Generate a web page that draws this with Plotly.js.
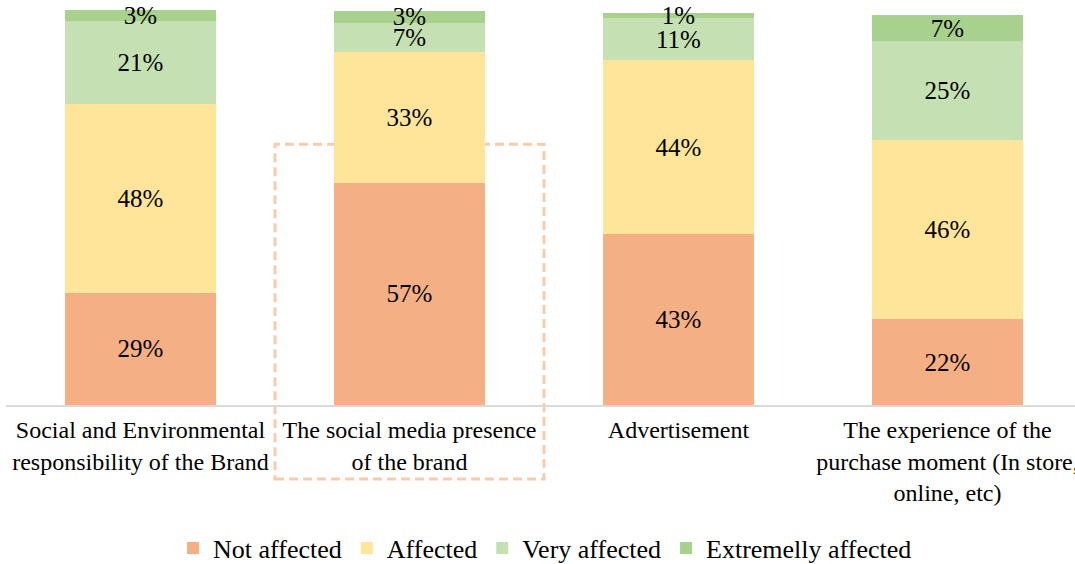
<!DOCTYPE html>
<html><head><meta charset="utf-8">
<script src="https://cdn.plot.ly/plotly-3.0.1.min.js"></script>
<style>html,body{margin:0;padding:0;background:#fff}#chart{width:1075px;height:564px}</style>
</head><body><div id="chart"></div><script>
// Categories (x-axis tick labels)
const categories = [
  "Social and Environmental<br>responsibility of the Brand",
  "The social media presence<br>of the brand",
  "Advertisement",
  "The experience of the<br>purchase moment (In store,<br>online, etc)"
];
// Series values (percent)
const notAffected        = [28.6, 56.6, 43.4, 21.8];
const affected           = [48.1, 33.3, 44.4, 45.6];
const veryAffected       = [21.1, 7.4, 10.6, 25.2];
const extremellyAffected = [2.6, 3.0, 1.4, 6.6];
const seriesNames  = ["Not affected", "Affected", "Very affected", "Extremelly affected"];
const seriesValues = [notAffected, affected, veryAffected, extremellyAffected];
const seriesColors = ["#F4B084", "#FFE599", "#C5E0B3", "#A9D18E"];

const FONT = "'Liberation Serif', 'Times New Roman', Times, serif";

const traces = seriesNames.map((name, i) => ({
  type: "bar",
  name: name,
  x: categories,
  y: seriesValues[i],
  width: 0.558,
  marker: {color: seriesColors[i], line: {width: 0}},
  texttemplate: "%{y:.0f}%",
  textposition: "inside",
  insidetextanchor: "middle",
  constraintext: "none",
  textangle: 0,
  cliponaxis: false,
  textfont: {family: FONT, size: 25, color: "#000000"},
  hoverinfo: "skip"
}));

const layout = {
  width: 1075, height: 564,
  barmode: "stack",
  paper_bgcolor: "#ffffff", plot_bgcolor: "#ffffff",
  font: {family: FONT, color: "#000000"},
  margin: {l: 6, r: 0, t: 0, b: 159, pad: 0},
  showlegend: true,
  xaxis: {
    type: "category",
    range: [-0.5, 3.474],
    showline: true, linecolor: "#D9D9D9", linewidth: 1.5,
    ticks: "", showgrid: false, zeroline: false,
    tickfont: {family: FONT, size: 24, color: "#000000"},
    ticklabelstandoff: 3,
    automargin: false
  },
  yaxis: {
    range: [0, 103.05],
    visible: false, showgrid: false, zeroline: false
  },
  legend: {
    orientation: "h",
    xref: "container", yref: "container",
    x: 0.507, xanchor: "center",
    y: 0.028, yanchor: "middle",
    traceorder: "normal",
    font: {family: FONT, size: 26, color: "#000000"},
    bgcolor: "rgba(0,0,0,0)"
  },
  shapes: [{
    type: "rect", layer: "below",
    xref: "x", yref: "paper",
    x0: 0.5, x1: 1.5,
    y0: -0.183, y1: 0.644,
    line: {color: "#F8CBAD", width: 3, dash: "9px,5px"},
    fillcolor: "rgba(0,0,0,0)"
  }]
};

Plotly.newPlot("chart", traces, layout, {staticPlot: true, displayModeBar: false});
</script></body></html>
